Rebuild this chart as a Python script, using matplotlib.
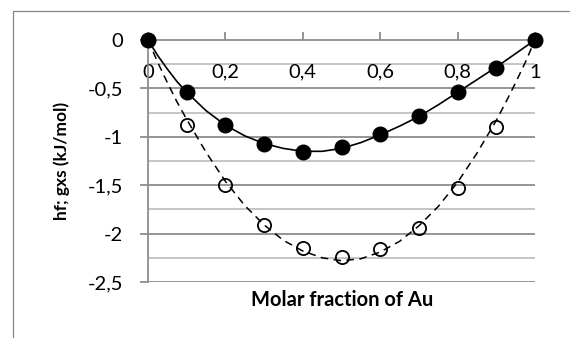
import matplotlib
matplotlib.use("Agg")
import matplotlib.pyplot as plt
from matplotlib.patches import Rectangle
from matplotlib.ticker import FuncFormatter, MultipleLocator

# measured points
x_pts = [0, 0.1, 0.2, 0.3, 0.4, 0.5, 0.6, 0.7, 0.8, 0.9, 1.0]
hf_pts = [0, -0.54, -0.88, -1.07, -1.16, -1.11, -0.97, -0.79, -0.54, -0.29, 0]
gxs_pts = [0, -0.88, -1.50, -1.91, -2.15, -2.24, -2.16, -1.94, -1.53, -0.90, 0]

# curves
x_curve = [0, 0.025, 0.05, 0.075, 0.1, 0.15, 0.2, 0.25, 0.3, 0.35, 0.4, 0.45, 0.5,
           0.55, 0.6, 0.65, 0.7, 0.75, 0.8, 0.85, 0.9, 0.925, 0.95, 0.975, 1.0]
hf_curve = [0, -0.16, -0.30, -0.43, -0.54, -0.73, -0.88, -0.99, -1.07, -1.12, -1.15,
            -1.15, -1.12, -1.06, -0.98, -0.89, -0.79, -0.67, -0.54, -0.41, -0.28,
            -0.21, -0.14, -0.07, 0]
gxs_curve = [0, -0.23, -0.44, -0.64, -0.82, -1.16, -1.46, -1.71, -1.91, -2.07, -2.18,
             -2.25, -2.28, -2.26, -2.19, -2.08, -1.92, -1.72, -1.47, -1.17, -0.83,
             -0.64, -0.44, -0.23, 0]

plt.rcParams['font.family'] = ['Lato', 'DejaVu Sans']

W, H = 570, 338
fig = plt.figure(figsize=(W / 100, H / 100), dpi=100)

# chart area border (only left/top visible in the crop)
fig.patches.append(Rectangle((13 / W, -0.1), 1.2, 1 - 11 / H + 0.1,
                             transform=fig.transFigure, fill=False,
                             edgecolor="#868686", linewidth=0.9))

ax = fig.add_axes([148 / W, 1 - 282 / H, (535 - 148) / W, (282 - 40) / H])
ax.set_xlim(0, 1)
ax.set_ylim(-2.5, 0)

# gridlines
for y in [-0.25, -0.75, -1.25, -1.75, -2.25]:
    ax.axhline(y, color="#c0c0c0", linewidth=1.3, zorder=0)
for y in [-0.5, -1.0, -1.5, -2.0, -2.5]:
    ax.axhline(y, color="#8c8c8c", linewidth=1.3, zorder=0)

for s in ["top", "right"]:
    ax.spines[s].set_visible(False)
ax.spines["bottom"].set_position(("data", 0))
ax.spines["bottom"].set_color("#8c8c8c")
ax.spines["left"].set_color("#8c8c8c")
ax.spines["bottom"].set_linewidth(1.3)
ax.spines["left"].set_linewidth(1.3)

fmt = FuncFormatter(lambda v, p: ("%g" % v).replace(".", ","))
ax.xaxis.set_major_locator(MultipleLocator(0.2))
ax.yaxis.set_major_locator(MultipleLocator(0.5))
ax.xaxis.set_major_formatter(fmt)
ax.yaxis.set_major_formatter(fmt)
ax.tick_params(axis="x", direction="in", length=6, width=1.3, color="#8c8c8c",
               pad=17, labelsize=14.5)
ax.tick_params(axis="y", direction="out", length=6, width=1.3, color="#8c8c8c",
               pad=12, labelsize=14.5)
for lab in ax.get_xticklabels():
    lab.set_zorder(5)

ax.plot(x_curve, gxs_curve, color="black", linewidth=1.1, linestyle=(0, (5, 3.5)),
        zorder=3)
ax.plot(x_curve, hf_curve, color="black", linewidth=1.2, zorder=3)
ax.plot(x_pts, gxs_pts, "o", markersize=9.5, markerfacecolor="none",
        markeredgecolor="black", markeredgewidth=1.3, clip_on=False, zorder=4)
ax.plot(x_pts, hf_pts, "o", markersize=10.5, color="black", clip_on=False, zorder=5)

fig.text(342 / W, 1 - 300 / H, "Molar fraction of Au", ha="center", va="center",
         fontsize=14.5, fontweight="bold")
fig.text(62 / W, 1 - 161 / H, "hf; gxs (kJ/mol)", ha="center", va="center",
         rotation=90, fontsize=12.5, fontweight="bold")

fig.savefig("out.png", dpi=100)
